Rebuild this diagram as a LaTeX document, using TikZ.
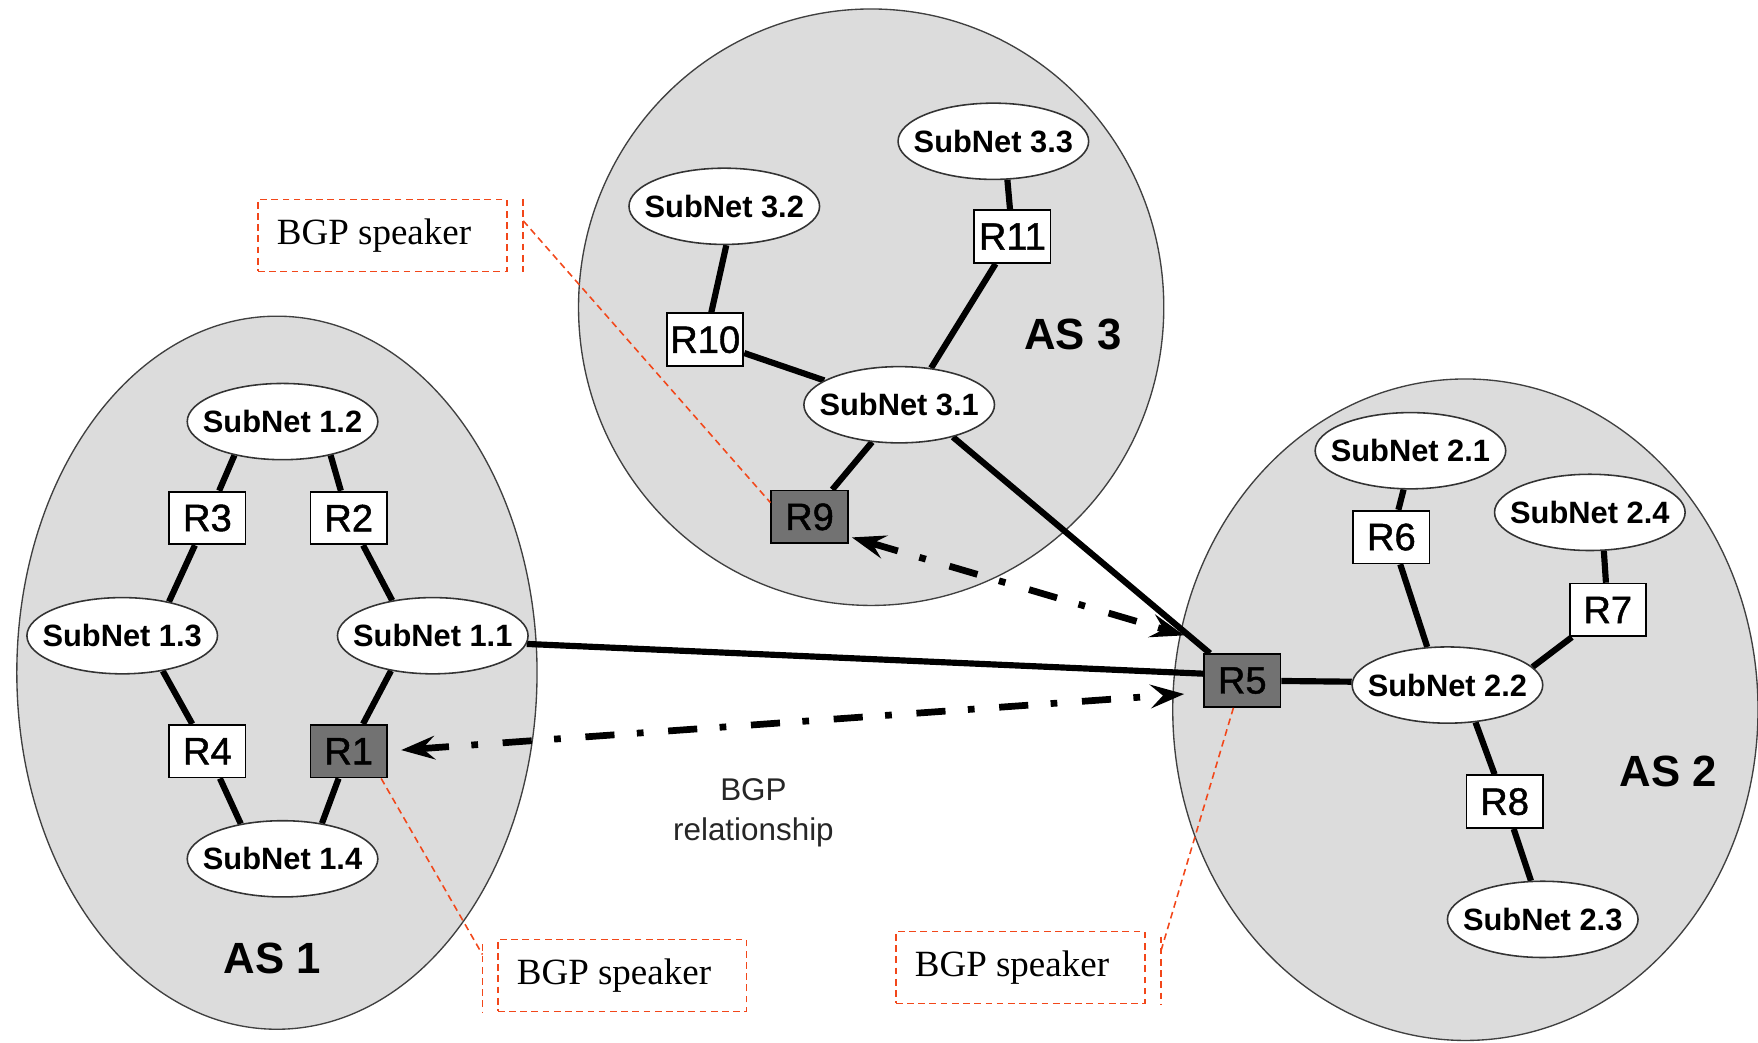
\documentclass[tikz,border=0pt]{standalone}
\usepackage{fontspec}
\setmainfont{Liberation Serif}
\setsansfont{Liberation Sans}
\newfontfamily\routerfont{Liberation Sans}[FakeBold=1.2]
\usetikzlibrary{shapes.geometric,arrows.meta,calc}

\definecolor{asfill}{HTML}{DCDCDC}
\definecolor{spkfill}{HTML}{727272}
\definecolor{callred}{HTML}{F2471A}

\pgfdeclarelayer{regions}
\pgfdeclarelayer{links}
\pgfsetlayers{regions,links,main}

% label kept out of the ellipse size computation
\newcommand{\snlabel}[1]{\makebox[0pt][c]{#1}}

\begin{document}
\begin{tikzpicture}[x=1pt,y=-1pt,
  asregion/.style={ellipse, draw=black!75, line width=1.2pt, fill=asfill, inner sep=0pt},
  aslabel/.style={font=\sffamily\bfseries\fontsize{39}{42}\selectfont, inner sep=0pt},
  subnet/.style={ellipse, draw=black!80, line width=1.4pt, fill=white,
    minimum width=170pt, minimum height=68pt, inner sep=0pt,
    font=\sffamily\bfseries\fontsize{27.5}{30}\selectfont},
  router/.style={rectangle, draw=black, line width=1.6pt, fill=white,
    minimum width=68pt, minimum height=47pt, inner sep=0pt,
    font=\routerfont\fontsize{34}{36}\selectfont},
  speaker/.style={router, fill=spkfill},
  link/.style={line width=5.5pt},
  bgprel/.style={line width=6pt, dash pattern=on 26pt off 20pt on 6pt off 22pt,
    {Stealth[length=30pt,width=21pt,inset=11pt]}-{Stealth[length=30pt,width=21pt,inset=11pt]}},
  callbox/.style={draw=callred, dash pattern=on 6pt off 4pt, line width=1.4pt,
    minimum width=222pt, minimum height=64pt, text width=188pt, align=flush left,
    inner xsep=0pt, inner ysep=0pt, font=\fontsize{33}{36}\selectfont},
  callline/.style={draw=callred, dash pattern=on 6pt off 4pt, line width=1.4pt}
]
\useasboundingbox (0,0) rectangle (1568,930);

% autonomous systems
\begin{pgfonlayer}{regions}
  \node[asregion, minimum width=464pt, minimum height=636pt] (as1) at (247,600) {};
  \node[asregion, minimum width=522pt, minimum height=532pt] (as3) at (777,274) {};
  \node[asregion, minimum width=522pt, minimum height=590pt] (as2) at (1307,633) {};
\end{pgfonlayer}

\node[aslabel] (as1lbl) at (243,855) {AS 1};
\node[aslabel] (as3lbl) at (957,298) {AS 3};
\node[aslabel] (as2lbl) at (1488,688) {AS 2};

% AS 1
\node[subnet] (sn12) at (252,376) {\snlabel{SubNet 1.2}};
\node[subnet] (sn13) at (109,567) {\snlabel{SubNet 1.3}};
\node[subnet] (sn11) at (386,567) {\snlabel{SubNet 1.1}};
\node[subnet] (sn14) at (252,766) {\snlabel{SubNet 1.4}};
\node[router] (r3) at (185,462) {R3};
\node[router] (r2) at (311,462) {R2};
\node[router] (r4) at (185,670) {R4};
\node[speaker] (r1) at (311,670) {R1};

% AS 3
\node[subnet] (sn32) at (646,184) {\snlabel{SubNet 3.2}};
\node[subnet] (sn33) at (886,126) {\snlabel{SubNet 3.3}};
\node[subnet] (sn31) at (802,361) {\snlabel{SubNet 3.1}};
\node[router] (r10) at (629,303) {R10};
\node[router] (r11) at (903,211) {R11};
\node[speaker] (r9) at (722,461) {R9};

% AS 2
\node[subnet] (sn21) at (1258,402) {\snlabel{SubNet 2.1}};
\node[subnet] (sn24) at (1418,457) {\snlabel{SubNet 2.4}};
\node[subnet] (sn22) at (1291,611) {\snlabel{SubNet 2.2}};
\node[subnet] (sn23) at (1376,820) {\snlabel{SubNet 2.3}};
\node[router] (r6) at (1241,479) {R6};
\node[router] (r7) at (1434,544) {R7};
\node[router] (r8) at (1342,715) {R8};
\node[speaker] (r5) at (1108,607) {R5};

% physical links
\begin{pgfonlayer}{links}
  \draw[link] (sn12.215) -- (r3);
  \draw[link] (r3) -- (sn13.36);
  \draw[link] (sn13.-41) -- (r4);
  \draw[link] (r4) -- (sn14.140);
  \draw[link] (sn12.325) -- (r2);
  \draw[link] (r2) -- (sn11.139);
  \draw[link] (sn11.220) -- (r1);
  \draw[link] (r1) -- (sn14.42);

  \draw[link] (sn32.273) -- (r10);
  \draw[link] (r10) -- (sn31.162);
  \draw[link] (sn33.290) -- (r11);
  \draw[link] (r11) -- (sn31.49);
  \draw[link] (sn31.234) -- (r9);
  \draw[link] (sn31.329) -- (r5);

  \draw[link] (sn21.260) -- (r6);
  \draw[link] (r6) -- (sn22.118);
  \draw[link] (sn24.290) -- (r7);
  \draw[link] (r7) -- (sn22.12);
  \draw[link] (sn22.307) -- (r8);
  \draw[link] (r8) -- (sn23.107);
  \draw[link] (r5) -- (sn22.178);

  \draw[link] (sn11.-5) -- (r5.170);
\end{pgfonlayer}

% BGP sessions between speakers
\coordinate (r1tip) at ($(r1.east)+(12,-1)$);
\coordinate (r5tipa) at ($(r5.west)+(-17,12)$);
\coordinate (r9tip) at ($(r9.south east)+(3,-6)$);
\coordinate (r5tipb) at ($(r5.north west)+(-17,-16)$);
\draw[bgprel] (r1tip) -- (r5tipa);
\draw[bgprel] (r9tip) -- (r5tipb);

\node[font=\sffamily\fontsize{28}{35}\selectfont, text=black!85, align=center]
  (bgplbl) at (672,725) {BGP\\relationship};

% callouts
\node[callbox] (cb1) at (341,210) {BGP speaker};
\coordinate (bar1t) at ($(cb1.north east)+(14,0)$);
\coordinate (bar1b) at ($(cb1.south east)+(14,0)$);
\coordinate (bar1m) at ($(bar1t)!0.3!(bar1b)$);
\draw[callline] (bar1t) -- (bar1b);
\draw[callline] (bar1m) -- (r9.160);

\node[callbox] (cb2) at (555,870) {BGP speaker};
\coordinate (bar2t) at ($(cb2.north west)+(-13,5)$);
\coordinate (bar2b) at ($(cb2.south west)+(-13,0)$);
\coordinate (bar2m) at ($(bar2t)!0.15!(bar2b)$);
\draw[callline] (bar2t) -- (bar2b);
\draw[callline] (r1.-40) -- (bar2m);

\node[callbox] (cb3) at (910,863) {BGP speaker};
\coordinate (bar3t) at ($(cb3.north east)+(14,5)$);
\coordinate (bar3b) at ($(cb3.south east)+(14,0)$);
\coordinate (bar3m) at ($(bar3t)!0.2!(bar3b)$);
\draw[callline] (bar3t) -- (bar3b);
\draw[callline] (r5.-108) -- (bar3m);

\end{tikzpicture}
\end{document}
